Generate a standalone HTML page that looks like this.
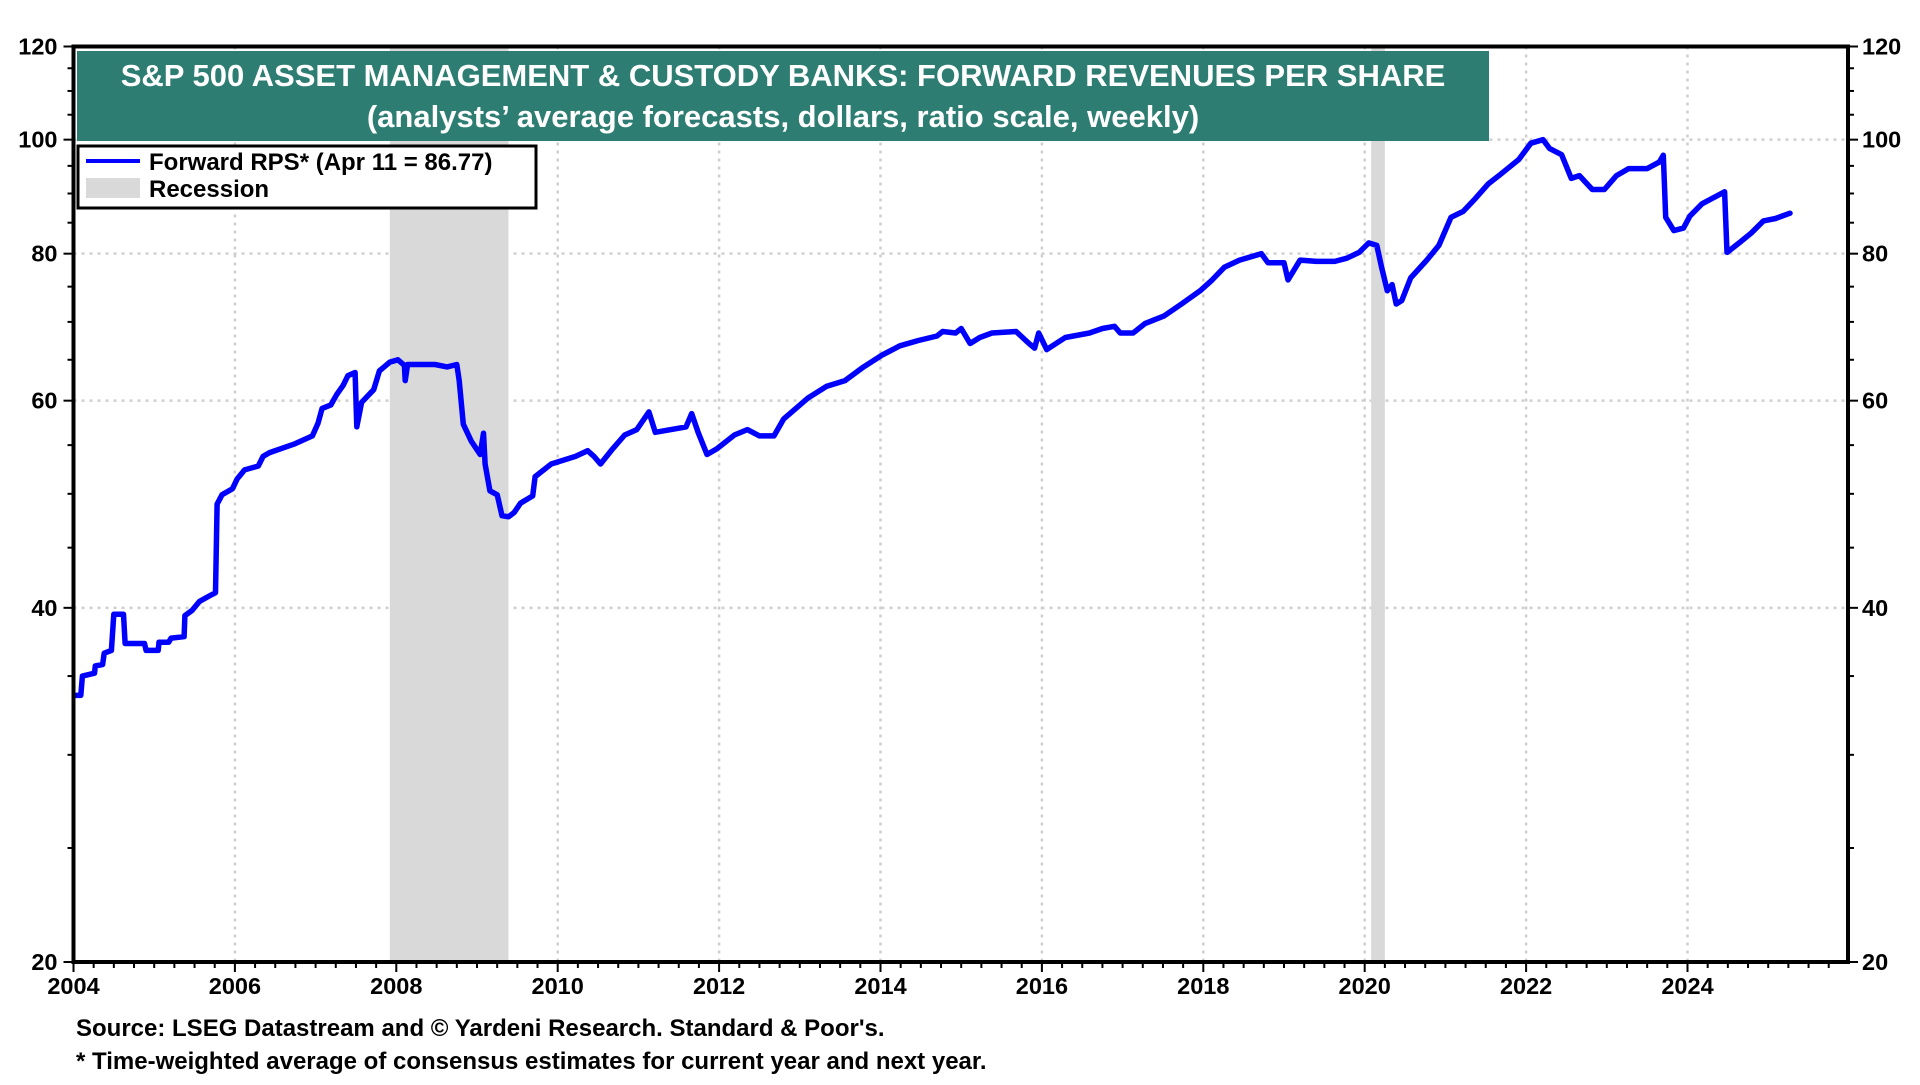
<!DOCTYPE html>
<html><head><meta charset="utf-8"><style>
html,body{margin:0;padding:0;background:#fff;}
svg text{font-family:"Liberation Sans",Arial,sans-serif;font-weight:bold;}
</style></head><body>
<svg id="chart" width="1920" height="1080" viewBox="0 0 1920 1080" xmlns="http://www.w3.org/2000/svg">
<g id="grid"></g>
<g id="rec"></g>
<rect x="77" y="51" width="1412" height="90" fill="#2e7d72"/>
<text x="783" y="86" text-anchor="middle" fill="#fff" font-size="31">S&amp;P 500 ASSET MANAGEMENT &amp; CUSTODY BANKS: FORWARD REVENUES PER SHARE</text>
<text x="783" y="127" text-anchor="middle" fill="#fff" font-size="31">(analysts’ average forecasts, dollars, ratio scale, weekly)</text>
<g id="series"></g>
<g id="axes"></g>
<g>
<rect x="78" y="146" width="458" height="62" fill="#fff" stroke="#000" stroke-width="3"/>
<line x1="86" y1="161" x2="140" y2="161" stroke="#0000ff" stroke-width="4"/>
<text x="149" y="170" font-size="24">Forward RPS* (Apr 11 = 86.77)</text>
<rect x="86" y="178" width="54" height="20" fill="#d9d9d9"/>
<text x="149" y="197" font-size="24">Recession</text>
</g>
<text x="76" y="1036" font-size="24">Source: LSEG Datastream and © Yardeni Research. Standard &amp; Poor's.</text>
<text x="76" y="1069" font-size="24">* Time-weighted average of consensus estimates for current year and next year.</text>
</svg>
<script>
const years=[2004.03,2004.09,2004.11,2004.26,2004.27,2004.36,2004.38,2004.47,2004.50,2004.62,2004.64,2004.88,2004.90,2005.05,2005.06,2005.18,2005.21,2005.37,2005.38,2005.47,2005.56,2005.67,2005.76,2005.78,2005.84,2005.97,2006.03,2006.12,2006.29,2006.35,2006.43,2006.73,2006.96,2007.03,2007.08,2007.19,2007.26,2007.34,2007.40,2007.49,2007.51,2007.57,2007.72,2007.79,2007.92,2008.02,2008.10,2008.11,2008.14,2008.48,2008.63,2008.75,2008.78,2008.83,2008.93,2009.04,2009.08,2009.10,2009.16,2009.25,2009.31,2009.39,2009.46,2009.54,2009.69,2009.72,2009.92,2010.22,2010.37,2010.45,2010.53,2010.68,2010.83,2010.98,2011.13,2011.21,2011.59,2011.66,2011.74,2011.85,2011.97,2012.19,2012.35,2012.50,2012.68,2012.80,2013.10,2013.33,2013.56,2013.79,2014.02,2014.24,2014.47,2014.70,2014.77,2014.93,2015.00,2015.11,2015.23,2015.38,2015.68,2015.84,2015.91,2015.96,2016.06,2016.29,2016.59,2016.75,2016.90,2016.97,2017.13,2017.28,2017.51,2017.73,2017.96,2018.11,2018.26,2018.45,2018.72,2018.80,2019.00,2019.05,2019.20,2019.40,2019.63,2019.78,2019.93,2020.05,2020.15,2020.21,2020.28,2020.34,2020.39,2020.46,2020.57,2020.77,2020.92,2021.07,2021.22,2021.37,2021.53,2021.68,2021.91,2022.06,2022.21,2022.29,2022.44,2022.56,2022.66,2022.82,2022.97,2023.12,2023.27,2023.50,2023.65,2023.70,2023.73,2023.83,2023.95,2024.03,2024.18,2024.46,2024.49,2024.64,2024.79,2024.94,2025.09,2025.27];
const rps=[33.7,33.7,35.0,35.2,35.7,35.8,36.6,36.8,39.5,39.5,37.3,37.3,36.8,36.8,37.4,37.4,37.7,37.8,39.4,39.8,40.5,40.9,41.2,49.0,49.9,50.5,51.5,52.4,52.8,53.8,54.2,55.1,56.0,57.4,59.1,59.5,60.7,61.8,63.0,63.4,57.0,59.8,61.3,63.6,64.7,65.0,64.3,62.4,64.4,64.4,64.1,64.4,62.4,57.3,55.4,54.0,56.3,53.0,50.3,49.9,47.9,47.8,48.2,49.1,49.8,51.7,53.0,53.8,54.4,53.8,53.0,54.6,56.1,56.7,58.7,56.4,57.0,58.5,56.4,54.0,54.6,56.1,56.7,56.0,56.0,57.9,60.3,61.7,62.4,64.1,65.6,66.8,67.5,68.1,68.7,68.5,69.1,67.1,67.9,68.5,68.7,67.1,66.5,68.5,66.3,67.9,68.5,69.1,69.4,68.5,68.5,69.8,70.8,72.5,74.4,76.0,77.9,79.0,80.0,78.6,78.6,76.0,79.0,78.8,78.8,79.3,80.2,81.7,81.3,77.9,74.4,75.3,72.5,73.0,76.3,79.0,81.3,85.9,86.9,89.1,91.7,93.4,96.2,99.3,100,98.3,97.1,92.7,93.2,90.7,90.7,93.2,94.5,94.5,95.7,97.0,85.9,83.7,84.1,86.1,88.2,90.3,80.2,81.7,83.3,85.3,85.7,86.6];
const recStart=[2007.92,2020.08];
const recEnd=[2009.39,2020.25];
const yTicks=[20,40,60,80,100,120];
const yGrid=[40,60,80,100];
const xTicks=[2004,2006,2008,2010,2012,2014,2016,2018,2020,2022,2024];

const NS='http://www.w3.org/2000/svg';
const L=73.5,R=1848,T=46.5,B=962,Y0=2004,PX=80.7,VMIN=20,VMAX=120;
function xs(y){return L+(y-Y0)*PX;}
function ys(v){return B-(Math.log(v/VMIN)/Math.log(VMAX/VMIN))*(B-T);}
function mk(tag,attrs,parent){const e=document.createElementNS(NS,tag);for(const k in attrs)e.setAttribute(k,attrs[k]);parent.appendChild(e);return e;}
const grid=document.getElementById('grid'),rec=document.getElementById('rec'),ser=document.getElementById('series'),axes=document.getElementById('axes');

yGrid.forEach(v=>{const l=mk('line',{x1:L,x2:R,y1:ys(v),y2:ys(v),stroke:'#cfcfcf','stroke-width':2.5,'stroke-dasharray':'3 5'},grid);

});
xTicks.slice(1).forEach(y=>{const l=mk('line',{x1:xs(y),x2:xs(y),y1:T,y2:B,stroke:'#cfcfcf','stroke-width':2.5,'stroke-dasharray':'3 5'},grid);

});
recStart.forEach((s,i)=>{const r=mk('rect',{x:xs(s),y:T,width:xs(recEnd[i])-xs(s),height:B-T,fill:'#d9d9d9'},rec);

});

let d='';years.forEach((y,i)=>{d+=(i?'L':'M')+xs(y).toFixed(1)+','+ys(rps[i]).toFixed(1);});
const p=mk('path',{d:d,fill:'none',stroke:'#0000ff','stroke-width':5.5,'stroke-linejoin':'round','stroke-linecap':'round'},ser);



const fr=mk('rect',{x:L,y:T,width:R-L,height:B-T,fill:'none',stroke:'#000','stroke-width':4},axes);


for(let v=20;v<=120;v+=5){const len=(yTicks.indexOf(v)>=0)?10:6;
const a=mk('line',{x1:L-len,x2:L,y1:ys(v),y2:ys(v),stroke:'#000','stroke-width':2},axes);


const b=mk('line',{x1:R,x2:R+len,y1:ys(v),y2:ys(v),stroke:'#000','stroke-width':2},axes);

}
yTicks.forEach(v=>{const t=mk('text',{x:L-16,y:ys(v)+8,'text-anchor':'end','font-size':23.5},axes);t.textContent=v;


const t2=mk('text',{x:R+14,y:ys(v)+8,'font-size':23.5},axes);t2.textContent=v;

});
for(let q=0;xs(Y0+q/4)<R;q++){const y=Y0+q/4;const major=(q%8===0);
const k=mk('line',{x1:xs(y),x2:xs(y),y1:B,y2:B+(major?10:6),stroke:'#000','stroke-width':2},axes);

}
xTicks.forEach(y=>{const t=mk('text',{x:xs(y),y:B+32,'text-anchor':'middle','font-size':23.5},axes);t.textContent=y;

});
</script>
</body></html>
